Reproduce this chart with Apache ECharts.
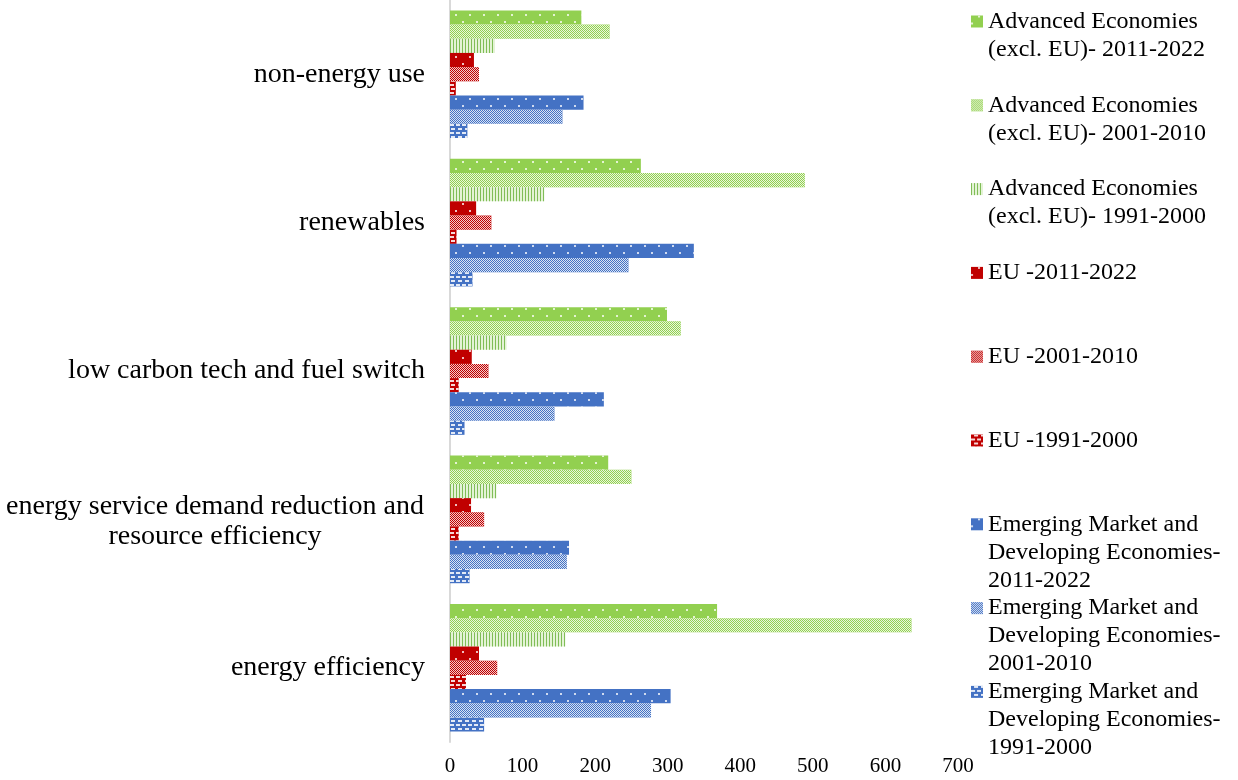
<!DOCTYPE html>
<html>
<head>
<meta charset="utf-8">
<title>Energy transition measures by economy group and period</title>
<script src="https://cdn.jsdelivr.net/npm/echarts@6/dist/echarts.min.js"></script>
<style>
  html, body { margin: 0; padding: 0; background: #fff; }
  #chart { width: 1238px; height: 780px; }
</style>
</head>
<body>
<div id="chart"></div>
<script>
// Categories listed bottom to top, as the category axis draws them
const categories = [
  'energy efficiency',
  'energy service demand reduction and resource efficiency',
  'low carbon tech and fuel switch',
  'renewables',
  'non-energy use'
];

// Values per series, in the same order as categories
const advanced2011 = [368, 218, 299, 263, 181];
const advanced2001 = [636, 250, 318, 489, 220];
const advanced1991 = [159, 64, 78, 130, 62];
const eu2011 = [40, 29, 30, 36, 33];
const eu2001 = [65, 47, 53, 57, 40];
const eu1991 = [22, 12, 12, 9, 8];
const emde2011 = [304, 164, 212, 336, 184];
const emde2001 = [277, 161, 144, 246, 155];
const emde1991 = [47, 27, 20, 31, 24];

const seriesNames = [
  'Advanced Economies (excl. EU)- 2011-2022',
  'Advanced Economies (excl. EU)- 2001-2010',
  'Advanced Economies (excl. EU)- 1991-2000',
  'EU -2011-2022',
  'EU -2001-2010',
  'EU -1991-2000',
  'Emerging Market and Developing Economies-2011-2022',
  'Emerging Market and Developing Economies-2001-2010',
  'Emerging Market and Developing Economies-1991-2000'
];
// Legend text, broken into lines
const legendLines = [
  ['Advanced Economies', '(excl. EU)- 2011-2022'],
  ['Advanced Economies', '(excl. EU)- 2001-2010'],
  ['Advanced Economies', '(excl. EU)- 1991-2000'],
  ['EU -2011-2022'],
  ['EU -2001-2010'],
  ['EU -1991-2000'],
  ['Emerging Market and', 'Developing Economies-', '2011-2022'],
  ['Emerging Market and', 'Developing Economies-', '2001-2010'],
  ['Emerging Market and', 'Developing Economies-', '1991-2000']
];
const seriesValues = [
  advanced2011, advanced2001, advanced1991,
  eu2011, eu2001, eu1991,
  emde2011, emde2001, emde1991
];

const GREEN = '#92D050';
const RED = '#C00000';
const BLUE = '#4472C4';
const baseColors = [GREEN, GREEN, '#e4f3d6', RED, RED, RED, BLUE, BLUE, BLUE];

const FONT = '"Liberation Serif", "Times New Roman", serif';

// Fill patterns per period
const dotsDecal = {
  symbol: 'rect', symbolSize: 1, color: 'rgba(255,255,255,0.75)',
  dashArrayX: [[2, 12], [0, 7, 2, 5]], dashArrayY: [2, 5]
};
const checkerDecal = {
  symbol: 'rect', symbolSize: 1, color: 'rgba(255,255,255,0.8)',
  dashArrayX: [[1, 1], [0, 1, 1, 0]], dashArrayY: [1, 0]
};
const stripeDecal = {
  symbol: 'rect', symbolSize: 1, color: '#80bd57',
  dashArrayX: [1, 2], dashArrayY: [4, 0]
};
const brickDecal = {
  symbol: 'rect', symbolSize: 1, color: 'rgba(255,255,255,0.85)',
  dashArrayX: [[4, 2], [0, 3, 4, 0]], dashArrayY: [2, 2]
};
const decals = [
  dotsDecal, checkerDecal, stripeDecal,
  dotsDecal, checkerDecal, brickDecal,
  dotsDecal, checkerDecal, brickDecal
];

function wrapLabel(text, maxChars) {
  const words = text.split(' ');
  const lines = [];
  let cur = '';
  words.forEach(w => {
    const next = cur ? cur + ' ' + w : w;
    if (next.length > maxChars && cur) { lines.push(cur); cur = w; }
    else cur = next;
  });
  if (cur) lines.push(cur);
  return lines;
}

// One legend block per series; the swatch sits beside the first text line
const legendTop0 = 21.5;
const legendStep = 83.8;
const LEGEND_LH = 28;
const legends = seriesNames.map((name, i) => {
  const lines = legendLines[i];
  const n = lines.length;
  const padded = new Array(n - 1).fill('').concat(lines).join('\n');
  const center = legendTop0 + legendStep * i;
  return {
    show: true,
    left: 971,
    top: center - (2 * n - 1) * LEGEND_LH / 2,
    padding: 0,
    orient: 'vertical',
    icon: 'rect',
    itemWidth: 12,
    itemHeight: 12,
    data: [name],
    formatter: () => padded,
    selectedMode: false,
    textStyle: {
      fontFamily: FONT, fontSize: 24, color: '#000', lineHeight: LEGEND_LH
    }
  };
});

const series = seriesNames.map((name, i) => ({
  name: name,
  type: 'bar',
  data: seriesValues[i],
  barGap: '0%',
  barCategoryGap: '14%',
  itemStyle: { color: baseColors[i], decal: decals[i] },
  emphasis: { disabled: true }
}));

const chart = echarts.init(document.getElementById('chart'), null, { renderer: 'canvas' });
chart.setOption({
  animation: false,
  backgroundColor: '#fff',
  grid: { left: 450, right: 280, top: 0, bottom: 38, containLabel: false },
  legend: legends,
  xAxis: {
    type: 'value',
    min: 0, max: 700, interval: 100,
    axisLine: { show: false },
    axisTick: { show: false },
    splitLine: { show: false },
    axisLabel: { fontFamily: FONT, fontSize: 21, color: '#000', margin: 14 }
  },
  yAxis: {
    type: 'category',
    data: categories,
    axisLine: { show: true, lineStyle: { color: '#d9d9d9', width: 2 } },
    axisTick: { show: false },
    axisLabel: {
      fontFamily: FONT, fontSize: 28, color: '#000', margin: 25, lineHeight: 30,
      formatter: (v) => {
        const lines = wrapLabel(v, 36);
        if (lines.length === 1) return v;
        return lines.map(l => '{c|' + l + '}').join('\n');
      },
      rich: {
        c: { fontFamily: FONT, fontSize: 28, color: '#000', lineHeight: 30, width: 420, align: 'center', padding: [5, 0, 0, 0] }
      }
    }
  },
  series: series
});
</script>
</body>
</html>
